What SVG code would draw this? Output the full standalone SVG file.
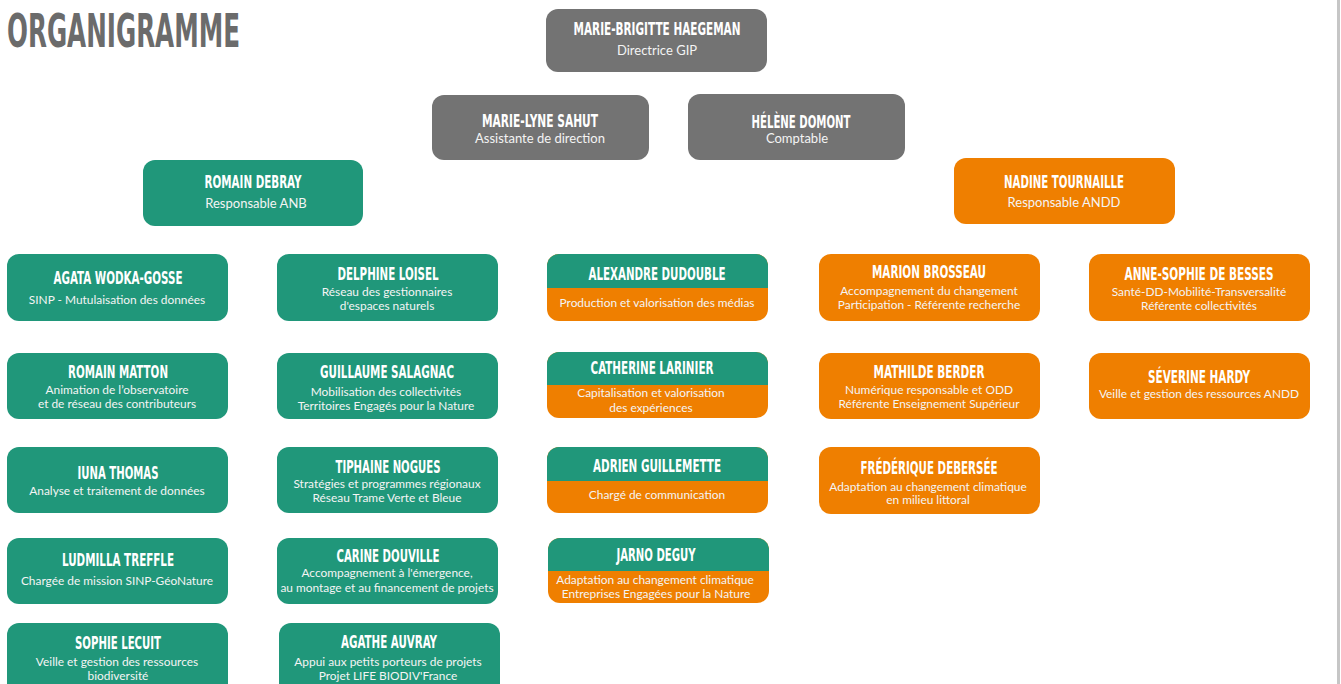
<svg xmlns="http://www.w3.org/2000/svg" width="1341" height="684" viewBox="0 0 1341 684">
<style>
.bg{fill:#ffffff}
.k{fill:#737373}
.g{fill:#20977a}
.o{fill:#ef7f00}
.t{font-family:"DejaVu Sans Condensed","DejaVu Sans",sans-serif;font-weight:bold;fill:#6b6b6b;font-size:34px}
.n{font-family:"DejaVu Sans Condensed","DejaVu Sans",sans-serif;font-weight:bold;fill:#ffffff;font-size:13.5px;text-anchor:middle}
.s{font-family:Lato,"Noto Sans",sans-serif;fill:#f4f4f4;font-size:11.9px;text-anchor:middle}
.s.l{font-size:13px}
</style>
<rect class="bg" x="0" y="0" width="1341" height="684"/>
<rect x="1337" y="0" width="3" height="684" fill="#c6c6c6"/>
<text class="t" transform="translate(7,47) scale(1,1.36)" textLength="233" lengthAdjust="spacingAndGlyphs">ORGANIGRAMME</text>

<g id="connectors"></g>

<g id="n-haegeman">
<rect class="k" x="546" y="9" width="221" height="63" rx="12"/>
<text class="n" transform="translate(657,35) scale(1,1.333)" textLength="167" lengthAdjust="spacingAndGlyphs">MARIE-BRIGITTE HAEGEMAN</text>
<text class="s l" x="657" y="55">Directrice GIP</text>
</g>
<g id="n-sahut">
<rect class="k" x="432" y="95" width="217" height="65" rx="12"/>
<text class="n" transform="translate(540,127) scale(1,1.333)" textLength="116" lengthAdjust="spacingAndGlyphs">MARIE-LYNE SAHUT</text>
<text class="s l" x="540" y="143">Assistante de direction</text>
</g>
<g id="n-domont">
<rect class="k" x="688" y="94" width="217" height="66" rx="12"/>
<text class="n" transform="translate(801,127.5) scale(1,1.333)" textLength="99" lengthAdjust="spacingAndGlyphs">HÉLÈNE DOMONT</text>
<text class="s l" x="797" y="143">Comptable</text>
</g>
<g id="n-debray">
<rect class="g" x="143" y="160" width="220" height="66" rx="12"/>
<text class="n" transform="translate(253,188) scale(1,1.333)" textLength="97" lengthAdjust="spacingAndGlyphs">ROMAIN DEBRAY</text>
<text class="s l" x="256" y="208">Responsable ANB</text>
</g>
<g id="n-tournaille">
<rect class="o" x="954" y="158" width="221" height="66" rx="12"/>
<text class="n" transform="translate(1064,188) scale(1,1.333)" textLength="120" lengthAdjust="spacingAndGlyphs">NADINE TOURNAILLE</text>
<text class="s l" x="1064" y="207">Responsable ANDD</text>
</g>

<g id="n-wodka">
<rect class="g" x="7" y="254" width="221" height="67" rx="12"/>
<text class="n" transform="translate(118,284) scale(1,1.333)" textLength="129" lengthAdjust="spacingAndGlyphs">AGATA WODKA-GOSSE</text>
<text class="s" x="117" y="304">SINP - Mutulaisation des données</text>
</g>
<g id="n-loisel">
<rect class="g" x="277" y="254" width="221" height="67" rx="12"/>
<text class="n" transform="translate(388,280) scale(1,1.333)" textLength="101" lengthAdjust="spacingAndGlyphs">DELPHINE LOISEL</text>
<text class="s" x="387" y="296">Réseau des gestionnaires</text>
<text class="s" x="387" y="310">d'espaces naturels</text>
</g>
<g id="n-dudouble">
<rect class="o" x="547" y="254" width="221" height="67" rx="12"/>
<path class="g" d="M547,288 V266 A12,12 0 0 1 559,254 H756 A12,12 0 0 1 768,266 V288 Z"/>
<text class="n" transform="translate(657,280) scale(1,1.333)" textLength="137" lengthAdjust="spacingAndGlyphs">ALEXANDRE DUDOUBLE</text>
<text class="s" x="657" y="307">Production et valorisation des médias</text>
</g>
<g id="n-brosseau">
<rect class="o" x="819" y="254" width="221" height="67" rx="12"/>
<text class="n" transform="translate(929,278) scale(1,1.333)" textLength="114" lengthAdjust="spacingAndGlyphs">MARION BROSSEAU</text>
<text class="s" x="929" y="295">Accompagnement du changement</text>
<text class="s" x="929" y="309">Participation - Référente recherche</text>
</g>
<g id="n-besses">
<rect class="o" x="1089" y="254" width="221" height="67" rx="12"/>
<text class="n" transform="translate(1199,280) scale(1,1.333)" textLength="149" lengthAdjust="spacingAndGlyphs">ANNE-SOPHIE DE BESSES</text>
<text class="s" x="1199" y="296">Santé-DD-Mobilité-Transversalité</text>
<text class="s" x="1199" y="310">Référente collectivités</text>
</g>

<g id="n-matton">
<rect class="g" x="7" y="353" width="221" height="66" rx="12"/>
<text class="n" transform="translate(118,378) scale(1,1.333)" textLength="100" lengthAdjust="spacingAndGlyphs">ROMAIN MATTON</text>
<text class="s" x="117" y="394">Animation de l’observatoire</text>
<text class="s" x="117" y="408">et de réseau des contributeurs</text>
</g>
<g id="n-salagnac">
<rect class="g" x="277" y="353" width="221" height="66" rx="12"/>
<text class="n" transform="translate(387,378) scale(1,1.333)" textLength="134" lengthAdjust="spacingAndGlyphs">GUILLAUME SALAGNAC</text>
<text class="s" x="386" y="396">Mobilisation des collectivités</text>
<text class="s" x="386" y="410">Territoires Engagés pour la Nature</text>
</g>
<g id="n-larinier">
<rect class="o" x="547" y="352" width="221" height="66" rx="12"/>
<path class="g" d="M547,385 V364 A12,12 0 0 1 559,352 H756 A12,12 0 0 1 768,364 V385 Z"/>
<text class="n" transform="translate(652,374) scale(1,1.333)" textLength="123" lengthAdjust="spacingAndGlyphs">CATHERINE LARINIER</text>
<text class="s" x="651" y="397">Capitalisation et valorisation</text>
<text class="s" x="651" y="412">des expériences</text>
</g>
<g id="n-berder">
<rect class="o" x="819" y="353" width="221" height="66" rx="12"/>
<text class="n" transform="translate(929,378) scale(1,1.333)" textLength="111" lengthAdjust="spacingAndGlyphs">MATHILDE BERDER</text>
<text class="s" x="929" y="394">Numérique responsable et ODD</text>
<text class="s" x="929" y="408">Référente Enseignement Supérieur</text>
</g>
<g id="n-hardy">
<rect class="o" x="1089" y="353" width="221" height="66" rx="12"/>
<text class="n" transform="translate(1199,383) scale(1,1.333)" textLength="102" lengthAdjust="spacingAndGlyphs">SÉVERINE HARDY</text>
<text class="s" x="1199" y="398">Veille et gestion des ressources ANDD</text>
</g>

<g id="n-thomas">
<rect class="g" x="7" y="447" width="221" height="66" rx="12"/>
<text class="n" transform="translate(118,479) scale(1,1.333)" textLength="81" lengthAdjust="spacingAndGlyphs">IUNA THOMAS</text>
<text class="s" x="117" y="495">Analyse et traitement de données</text>
</g>
<g id="n-nogues">
<rect class="g" x="277" y="447" width="221" height="66" rx="12"/>
<text class="n" transform="translate(388,473) scale(1,1.333)" textLength="105" lengthAdjust="spacingAndGlyphs">TIPHAINE NOGUES</text>
<text class="s" x="387" y="488">Stratégies et programmes régionaux</text>
<text class="s" x="387" y="502">Réseau Trame Verte et Bleue</text>
</g>
<g id="n-guillemette">
<rect class="o" x="547" y="447" width="221" height="66" rx="12"/>
<path class="g" d="M547,481 V459 A12,12 0 0 1 559,447 H756 A12,12 0 0 1 768,459 V481 Z"/>
<text class="n" transform="translate(657,472) scale(1,1.333)" textLength="128" lengthAdjust="spacingAndGlyphs">ADRIEN GUILLEMETTE</text>
<text class="s" x="657" y="499">Chargé de communication</text>
</g>
<g id="n-debersee">
<rect class="o" x="819" y="447" width="221" height="67" rx="12"/>
<text class="n" transform="translate(929,474) scale(1,1.333)" textLength="137" lengthAdjust="spacingAndGlyphs">FRÉDÉRIQUE DEBERSÉE</text>
<text class="s" x="928" y="491">Adaptation au changement climatique</text>
<text class="s" x="928" y="504">en milieu littoral</text>
</g>

<g id="n-treffle">
<rect class="g" x="7" y="538" width="221" height="66" rx="12"/>
<text class="n" transform="translate(118,566) scale(1,1.333)" textLength="112" lengthAdjust="spacingAndGlyphs">LUDMILLA TREFFLE</text>
<text class="s" x="117" y="585">Chargée de mission SINP-GéoNature</text>
</g>
<g id="n-douville">
<rect class="g" x="277" y="538" width="221" height="66" rx="12"/>
<text class="n" transform="translate(388,562) scale(1,1.333)" textLength="103" lengthAdjust="spacingAndGlyphs">CARINE DOUVILLE</text>
<text class="s" x="387" y="577">Accompagnement à l'émergence,</text>
<text class="s" x="387" y="592">au montage et au financement de projets</text>
</g>
<g id="n-deguy">
<rect class="o" x="548" y="538" width="221" height="65" rx="12"/>
<path class="g" d="M548,571 V550 A12,12 0 0 1 560,538 H757 A12,12 0 0 1 769,550 V571 Z"/>
<text class="n" transform="translate(656,561) scale(1,1.333)" textLength="79" lengthAdjust="spacingAndGlyphs">JARNO DEGUY</text>
<text class="s" x="655" y="584">Adaptation au changement climatique</text>
<text class="s" x="656" y="598">Entreprises Engagées pour la Nature</text>
</g>

<g id="n-lecuit">
<rect class="g" x="7" y="623" width="221" height="75" rx="12"/>
<text class="n" transform="translate(118,649) scale(1,1.333)" textLength="86" lengthAdjust="spacingAndGlyphs">SOPHIE LECUIT</text>
<text class="s" x="117" y="666">Veille et gestion des ressources</text>
<text class="s" x="118" y="680">biodiversité</text>
</g>
<g id="n-auvray">
<rect class="g" x="279" y="623" width="221" height="75" rx="12"/>
<text class="n" transform="translate(389,648) scale(1,1.333)" textLength="96" lengthAdjust="spacingAndGlyphs">AGATHE AUVRAY</text>
<text class="s" x="388" y="666">Appui aux petits porteurs de projets</text>
<text class="s" x="388" y="680">Projet LIFE BIODIV'France</text>
</g>
</svg>
